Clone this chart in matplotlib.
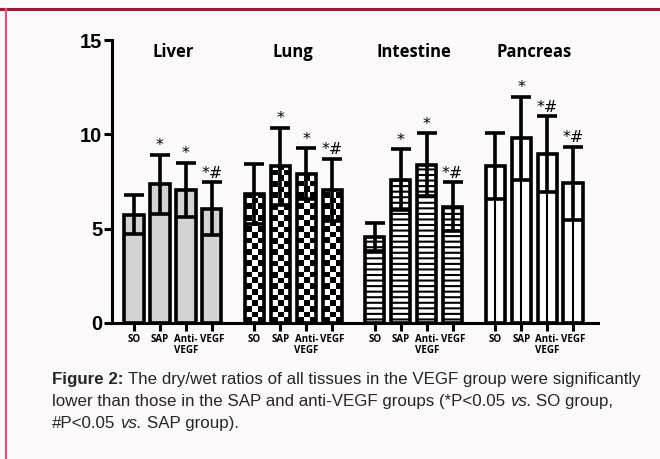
import matplotlib
matplotlib.use("Agg")
import matplotlib.pyplot as plt
import numpy as np

# data
tissues = ["Liver", "Lung", "Intestine", "Pancreas"]
groups = ["SO", "SAP", "Anti-\nVEGF", "VEGF"]
liver = [5.75, 7.35, 7.05, 6.05]
liver_sd = [1.05, 1.55, 1.45, 1.4]
lung = [6.85, 8.3, 7.9, 7.05]
lung_sd = [1.6, 2.05, 1.35, 1.65]
intestine = [4.55, 7.6, 8.4, 6.15]
intestine_sd = [0.75, 1.6, 1.65, 1.3]
pancreas = [8.3, 9.8, 8.95, 7.4]
pancreas_sd = [1.75, 2.2, 2.0, 1.95]
marks = [["", "*", "*", "*#"],
         ["", "*", "*", "*#"],
         ["", "*", "*", "*#"],
         ["", "*", "*#", "*#"]]

means = [liver, lung, intestine, pancreas]
sds = [liver_sd, lung_sd, intestine_sd, pancreas_sd]

bg = "#fbf9fa"
plt.rcParams["hatch.linewidth"] = 1.5

fig = plt.figure(figsize=(6.6, 4.59), dpi=100, facecolor=bg)
ax = fig.add_axes([112/660, 1-323/459, (598-112)/660, (323-40)/459])
ax.set_facecolor(bg)

gap = 4.64
w = 0.74
xs_all = []
for g in range(4):
    xs = g*gap + np.arange(4)
    xs_all += list(xs)
    m = np.array(means[g]); s = np.array(sds[g])
    if g == 0:
        ax.bar(xs, m, w, color="#d3d3d3", edgecolor="black", lw=2.6, zorder=2)
    elif g == 1:
        bars = ax.bar(xs, m, w, color="white", edgecolor="none", zorder=1)
        for b in bars:
            x0 = b.get_x(); h = b.get_height()
            ny = int(h/0.3) + 1
            board = (np.add.outer(np.arange(ny), np.arange(3)) % 2).astype(float)
            im = ax.imshow(board, cmap="gray", extent=(x0, x0+w, 0, ny*0.3),
                           origin="lower", aspect="auto", interpolation="nearest", zorder=1.5)
            im.set_clip_path(b)
        ax.bar(xs, m, w, fill=False, edgecolor="black", lw=2.6, zorder=2)
    elif g == 2:
        ax.bar(xs, m, w, color="white", edgecolor="black", hatch="---", lw=2.6, zorder=2)
    else:
        ax.bar(xs, m, w, color="white", edgecolor="black", lw=2.6, zorder=2)
        ax.vlines(xs, 0, m, color="black", lw=1.5, zorder=2)
    ax.errorbar(xs, m, yerr=s, fmt="none", ecolor="black", elinewidth=2.6,
                capsize=7, capthick=2.6, zorder=3)
    for x, v, e, t in zip(xs, m, s, marks[g]):
        if t:
            ax.text(x, v+e+0.1, t, ha="center", va="bottom", fontsize=11.5,
                    family="DejaVu Sans")
    ax.text(xs.mean(), 14.35, tissues[g], ha="center", va="center",
            fontsize=12, fontweight="bold", family="Open Sans")

ax.set_xlim(-0.85, 3*gap+3+0.96)
ax.set_ylim(0, 15)
ax.set_yticks([0, 5, 10, 15])
ax.set_xticks(xs_all)
ax.set_xticklabels(groups*4, fontsize=7, fontweight="bold", family="Open Sans",
                   linespacing=1.0)
for lab in ax.get_yticklabels():
    lab.set_fontsize(14.5)
    lab.set_fontweight("bold")
    lab.set_family("Liberation Sans")
ax.tick_params(axis="y", direction="out", length=6, width=2.2, pad=1)
ax.tick_params(axis="x", direction="out", length=6, width=2.2, pad=2)
for side in ["top", "right"]:
    ax.spines[side].set_visible(False)
for side in ["left", "bottom"]:
    ax.spines[side].set_linewidth(2.2)

# frame lines
fig.add_artist(plt.Line2D([0, 1], [1-8.5/459]*2, color="#a3173f", lw=2.2, transform=fig.transFigure))
fig.add_artist(plt.Line2D([6.5/660]*2, [0, 1-8.5/459], color="#cf5a7c", lw=1.6, transform=fig.transFigure))

# caption
fig.canvas.draw()
r = fig.canvas.get_renderer()
fam = ["Liberation Sans Narrow", "Liberation Sans"]
fs = 12.2
col = "#262626"

def width_px(s, **kw):
    t = fig.text(0, 0, s, fontsize=fs, family=fam, **kw)
    wd = t.get_window_extent(r).width
    t.remove()
    return wd

sp = width_px("x x") - width_px("xx")
lines = [
    [("Figure 2:", "bold", "normal"), ("The dry/wet ratios of all tissues in the VEGF group were significantly", "normal", "normal")],
    [("lower than those in the SAP and anti-VEGF groups (*P<0.05", "normal", "normal"), ("vs.", "normal", "italic"), ("SO group,", "normal", "normal")],
    [("#P<0.05", "normal", "normal"), ("vs.", "normal", "italic"), ("SAP group).", "normal", "normal")],
]
base = [384, 406, 428]
for line, yb in zip(lines, base):
    x = 52
    for s, wt, st in line:
        t = fig.text(x/660, 1-yb/459, s, fontsize=fs, family=fam, fontweight=wt,
                     fontstyle=st, color=col, va="baseline", ha="left")
        x += t.get_window_extent(r).width + sp

fig.savefig("out.png", dpi=100, facecolor=bg)
